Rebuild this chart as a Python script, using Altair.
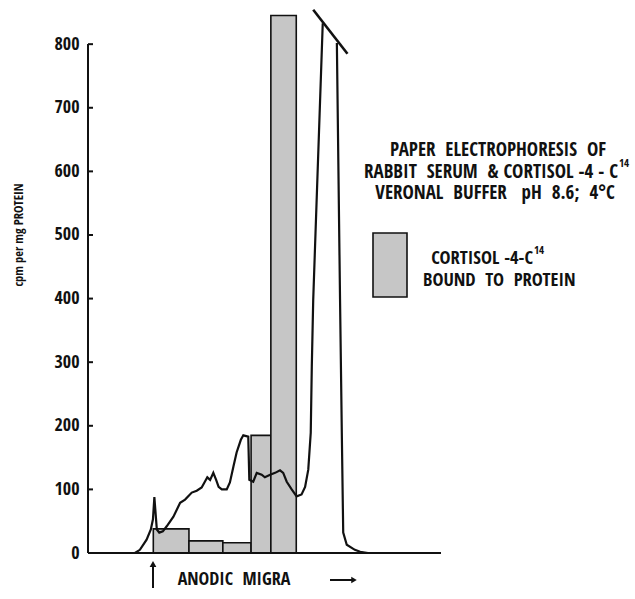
import altair as alt
import pandas as pd

# Bound cortisol-4-C14 in each paper segment (cpm per mg protein)
bar_start = [18.5, 28.6, 38.2, 46.2, 51.8]
bar_end = [28.6, 38.2, 46.2, 51.8, 59.0]
bar_cpm = [38, 19, 16, 185, 845]

# Protein scan trace along the strip; segment "b" resumes after the scale break
trace_pos = [13.3, 14.7, 16.6, 17.8, 18.4, 18.8, 19.5, 20.2, 21.2, 22.3, 24.2,
             26.1, 27.5, 29.4, 30.8, 32.2, 33.1, 33.8, 34.6, 35.5, 36.3, 37.0,
             37.9, 39.3, 40.2, 41.2, 42.1, 43.3, 44.0, 45.4, 45.7, 46.8, 47.8,
             49.2, 50.1, 51.6, 53.0, 54.4, 55.3, 56.3, 57.7, 59.1, 60.5, 61.5,
             62.4, 63.1, 63.4, 63.8, 66.5,
             70.5, 71.4, 71.9, 72.3, 73.3, 75.6, 77.1, 79.3]
trace_val = [0, 5, 21, 37, 53, 88, 37, 32, 34, 42, 57,
             79, 84, 95, 98, 103, 112, 119, 115, 126, 115, 104,
             100, 100, 111, 136, 158, 178, 185, 183, 115, 112, 126,
             123, 119, 123, 126, 130, 126, 112, 100, 89, 92, 104,
             131, 189, 293, 398, 833,
             802, 398, 189, 32, 13, 5, 2, 0]
trace_seg = ["a"] * 49 + ["b"] * 8

# Scale-break stroke across the off-scale albumin peak
break_pos = [63.8, 73.5]
break_val = [854, 785]

y_ticks = [0, 100, 200, 300, 400, 500, 600, 700, 800]
strip_extent = [0, 100]

NB = "\u00a0"
y_title = "cpm per mg PROTEIN"
heading = ["PAPER" + NB * 2 + "ELECTROPHORESIS" + NB * 2 + "OF",
           "RABBIT" + NB * 2 + "SERUM" + NB * 2 + "&" + NB + "CORTISOL" + NB + "-4" + NB + "-" + NB + "C",
           "VERONAL" + NB * 2 + "BUFFER" + NB * 3 + "pH" + NB * 2 + "8.6;" + NB * 2 + "4\u00b0C"]
isotope = "14"
legend_lines = ["CORTISOL" + NB + "-4-C",
                "BOUND" + NB * 2 + "TO" + NB * 2 + "PROTEIN"]
migration = "ANODIC" + NB * 2 + "MIGRA"

FONT = ("Noto Sans ExtraCondensed, Noto Sans Condensed, Open Sans Condensed, "
        "Roboto Condensed, Liberation Sans Narrow, DejaVu Sans Condensed, sans-serif")
FILL = "#c6c6c6"
INK = "#111111"

x_scale = alt.Scale(domain=[0, 100], nice=False)
y_scale = alt.Scale(domain=[0, 860], nice=False)

bars = pd.DataFrame({"start": bar_start, "end": bar_end, "cpm": bar_cpm})
trace = pd.DataFrame({"pos": trace_pos, "val": trace_val, "seg": trace_seg})
brk = pd.DataFrame({"pos": break_pos, "val": break_val})
ticks = pd.DataFrame({"v": y_ticks})
base = pd.DataFrame({"a": [strip_extent[0]], "b": [strip_extent[1]]})

bar_layer = alt.Chart(bars).mark_rect(fill=FILL, stroke=INK, strokeWidth=1.6).encode(
    x=alt.X("start:Q", scale=x_scale, axis=None),
    x2="end:Q",
    y=alt.Y("cpm:Q", scale=y_scale,
            axis=alt.Axis(values=y_ticks, domain=False, ticks=False, grid=False,
                          labelPadding=9, labelFontSize=18, labelFont=FONT,
                          labelFontWeight="bold", labelColor=INK, title=None)),
    y2=alt.datum(0),
)

trace_layer = alt.Chart(trace).mark_line(color=INK, strokeWidth=2.2).encode(
    x=alt.X("pos:Q", scale=x_scale),
    y=alt.Y("val:Q", scale=y_scale),
    detail="seg:N",
    order="pos:Q",
)

break_layer = alt.Chart(brk).mark_line(color=INK, strokeWidth=2.6).encode(
    x=alt.X("pos:Q", scale=x_scale),
    y=alt.Y("val:Q", scale=y_scale),
)

baseline = alt.Chart(base).mark_rule(color=INK, strokeWidth=2).encode(
    x=alt.X("a:Q", scale=x_scale), x2="b:Q", y=alt.datum(0)
)

y_line = alt.Chart(ticks).mark_rule(color=INK, strokeWidth=2).encode(
    x=alt.value(0), y=alt.datum(0), y2=alt.datum(800)
)

tick_marks = alt.Chart(ticks).mark_rule(color=INK, strokeWidth=2).encode(
    x=alt.value(0), x2=alt.value(5), y=alt.Y("v:Q", scale=y_scale)
)


def label(text, x, y, size, align="center", angle=0):
    return alt.Chart(ticks).transform_filter("datum.v == 0").mark_text(
        text=text, font=FONT, fontWeight="bold", fontSize=size, color=INK,
        align=align, baseline="middle", angle=angle,
    ).encode(x=alt.value(x), y=alt.value(y))


texts = [
    label(y_title, -69, 229, 12.5, angle=270),
    label(heading[0], 410, 144, 19),
    label(heading[1], 530, 166, 19, align="right"),
    label(isotope, 531, 158, 11, align="left"),
    label(heading[2], 407, 187, 19),
    label(legend_lines[0], 445, 252, 18.5, align="right"),
    label(isotope, 446, 245, 11, align="left"),
    label(legend_lines[1], 335, 274, 18.5, align="left"),
    label(migration, 146, 574, 18),
]

legend_box = alt.Chart(ticks).transform_filter("datum.v == 0").mark_rect(
    fill=FILL, stroke=INK, strokeWidth=1.6
).encode(x=alt.value(285), x2=alt.value(319), y=alt.value(227), y2=alt.value(291))

# Origin arrow and direction-of-migration arrow below the strip
up_shaft = alt.Chart(ticks).transform_filter("datum.v == 0").mark_rule(
    color=INK, strokeWidth=2
).encode(x=alt.value(65), y=alt.value(559), y2=alt.value(582))
up_head = alt.Chart(ticks).transform_filter("datum.v == 0").mark_point(
    shape="triangle-up", filled=True, color=INK, size=45, opacity=1
).encode(x=alt.value(65), y=alt.value(558))
right_shaft = alt.Chart(ticks).transform_filter("datum.v == 0").mark_rule(
    color=INK, strokeWidth=2
).encode(x=alt.value(242), x2=alt.value(264), y=alt.value(574))
right_head = alt.Chart(ticks).transform_filter("datum.v == 0").mark_point(
    shape="triangle-right", filled=True, color=INK, size=40, opacity=1
).encode(x=alt.value(266), y=alt.value(574))

chart = alt.layer(
    bar_layer, trace_layer, break_layer, baseline, y_line, tick_marks,
    legend_box, up_shaft, up_head, right_shaft, right_head, *texts
).properties(
    width=353, height=547,
    padding={"left": 88, "top": 6, "right": 194, "bottom": 46},
    autosize="none",
).configure(
    background="white",
    view=alt.ViewConfig(stroke="transparent", strokeWidth=0),
)

chart.save("out.html", embed_options={"renderer": "svg", "actions": False})
